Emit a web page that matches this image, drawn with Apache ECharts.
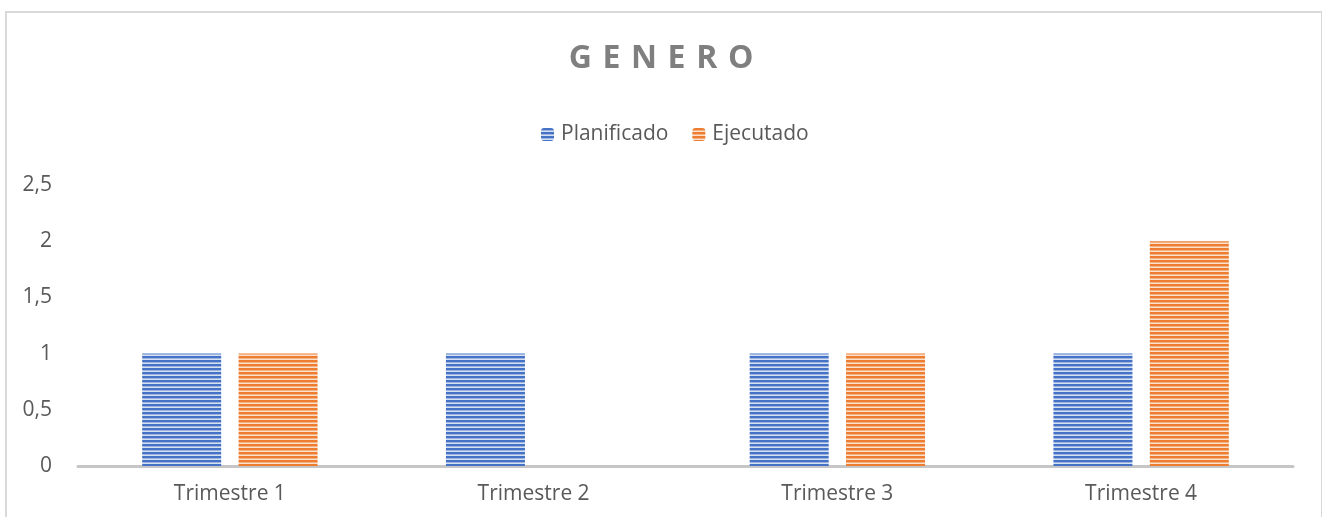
<!DOCTYPE html>
<html lang="es">
<head>
    <meta charset="utf-8">
    <title>GENERO</title>
    <script src="https://cdn.jsdelivr.net/npm/echarts@6.0.0/dist/echarts.min.js"></script>
    <style>
        html, body {margin: 0; padding: 0; background: #fff;}
        #frame {position: absolute; left: 5px; top: 11px; width: 1314px; height: 520px; border: 2px solid #d9d9d9;}
        #chart {position: absolute; left: 0; top: 0; width: 1322px; height: 517px;}
    </style>
</head>
<body>
<div id="frame"></div>
<div id="chart"></div>
<script type="application/javascript">
    // datos
    var categorias = ['Trimestre 1', 'Trimestre 2', 'Trimestre 3', 'Trimestre 4'];
    var planificado = [1, 1, 1, 1];
    var ejecutado = [1, 0, 1, 2];

    // relleno de rayas horizontales (como en Excel)
    function rayas(oscuro, medio, claro) {
        var c = document.createElement('canvas');
        c.width = 4;
        c.height = 4;
        var ctx = c.getContext('2d');
        ctx.fillStyle = oscuro;
        ctx.fillRect(0, 0, 4, 2);
        ctx.fillStyle = medio;
        ctx.fillRect(0, 2, 4, 1);
        ctx.fillStyle = claro;
        ctx.fillRect(0, 3, 4, 1);
        return {image: c, repeat: 'repeat'};
    }

    var chart = echarts.init(document.getElementById('chart'));
    var fuente = '"Open Sans", sans-serif';
    var sp = '\u2009\u2009';

    var option = {
        animation: false,
        title: {
            text: ['G', 'E', 'N', 'E', 'R', 'O'].join(sp),
            left: 'center',
            top: 38,
            textStyle: {fontFamily: fuente, fontSize: 32, fontWeight: 'bold', color: '#7f7f7f'}
        },
        legend: {
            top: 119,
            left: 536,
            itemWidth: 13,
            itemHeight: 13,
            itemGap: 24,
            textStyle: {fontFamily: fuente, fontSize: 21, color: '#595959', padding: [0, 0, 0, 2]},
            data: ['Planificado', 'Ejecutado']
        },
        grid: {left: 78, right: 29, top: 185, bottom: 51},
        xAxis: {
            type: 'category',
            data: categorias,
            axisLine: {lineStyle: {color: '#c6c6c6', width: 3}},
            axisTick: {show: false},
            axisLabel: {fontFamily: fuente, fontSize: 21, color: '#595959', margin: 18}
        },
        yAxis: {
            type: 'value',
            min: 0,
            max: 2.5,
            interval: 0.5,
            splitLine: {show: false},
            axisLine: {show: false},
            axisLabel: {
                fontFamily: fuente, fontSize: 21, color: '#595959', margin: 26,
                formatter: function (v) { return String(v).replace('.', ','); }
            }
        },
        series: [
            {
                name: 'Planificado',
                type: 'bar',
                barWidth: 79,
                barGap: '22%',
                data: planificado,
                itemStyle: {color: rayas('#4472c4', '#9db4e0', '#d6e0f3')}
            },
            {
                name: 'Ejecutado',
                type: 'bar',
                barWidth: 79,
                data: ejecutado,
                itemStyle: {color: rayas('#ed7d31', '#f4b183', '#fbe0cc')}
            }
        ]
    };

    chart.setOption(option);
</script>
</body>
</html>
